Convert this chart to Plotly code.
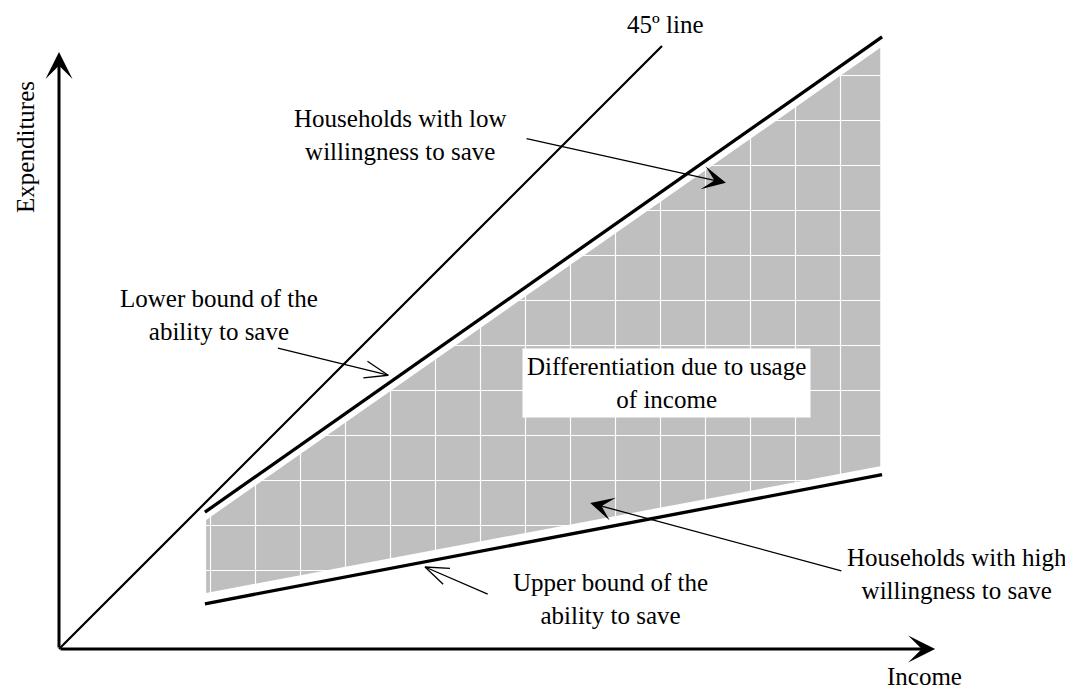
import numpy as np
import plotly.graph_objects as go

# ---- data (income on x, expenditures on y, arbitrary units) ----
x_axis_end = 145.3
y_axis_end = 99.0

line45_x = [0, 100]
line45_y = [0, 100]

low_will_x = [24.2, 136.5]     # households with low willingness to save
low_will_y = [22.7, 101.5]
high_will_x = [24.2, 136.5]    # households with high willingness to save
high_will_y = [7.5, 28.9]

band_x = [24.4, 136.2, 136.2, 24.4]
band_y = [21.4, 99.7, 30.3, 9.3]

# pointer arrows: tail -> tip
filled_tails = [(77.3, 84.7), (130.0, 12.9)]
filled_tips = [(110.6, 77.3), (88.1, 24.2)]
open_tails = [(36.3, 49.9), (71.1, 9.1)]
open_tips = [(54.6, 45.4), (60.7, 13.6)]

label_texts = [
    "45º line",
    "Households with low<br>willingness to save",
    "Lower bound of the<br>ability to save",
    "Upper bound of the<br>ability to save",
    "Households with high<br>willingness to save",
    "Income",
]
label_x = [100.5, 56.6, 26.5, 91.5, 148.9, 143.6]
label_y = [103.5, 85.2, 55.4, 8.3, 12.4, -4.5]

box_text = "Differentiation due to usage<br>of income"
box_x, box_y = 100.7, 44.1

ylabel_text = "Expenditures"
ylabel_x, ylabel_y = -5.6, 83.3

FONT = dict(family="Liberation Serif, Times New Roman, serif", size=25, color="black")

fig = go.Figure()

# shaded band
fig.add_trace(go.Scatter(
    x=band_x + [band_x[0]], y=band_y + [band_y[0]],
    mode="lines", line=dict(width=0), fill="toself",
    fillcolor="#bfbfbf",
    fillpattern=dict(shape="+", fgcolor="white", bgcolor="#bfbfbf",
                     size=45, solidity=0.05, fillmode="replace"),
    hoverinfo="skip", showlegend=False))

# 45 degree line
fig.add_trace(go.Scatter(x=line45_x, y=line45_y, mode="lines",
                         line=dict(color="black", width=2.2),
                         hoverinfo="skip", showlegend=False))
# willingness lines
for xs, ys in [(low_will_x, low_will_y), (high_will_x, high_will_y)]:
    fig.add_trace(go.Scatter(x=xs, y=ys, mode="lines",
                             line=dict(color="black", width=3.3),
                             hoverinfo="skip", showlegend=False))

# open arrows (shaft + two barbs)
def barbs(tail, tip, length=4.15, half_angle_deg=20):
    d = np.array(tail, float) - np.array(tip, float)
    d /= np.linalg.norm(d)
    pts = []
    for s in (1, -1):
        a = np.radians(half_angle_deg) * s
        r = np.array([d[0] * np.cos(a) - d[1] * np.sin(a),
                      d[0] * np.sin(a) + d[1] * np.cos(a)])
        pts.append(np.array(tip) + length * r)
    return [pts[0][0], tip[0], pts[1][0]], [pts[0][1], tip[1], pts[1][1]]

for tail, tip in zip(open_tails, open_tips):
    fig.add_trace(go.Scatter(x=[tail[0], tip[0]], y=[tail[1], tip[1]], mode="lines",
                             line=dict(color="black", width=1.3),
                             hoverinfo="skip", showlegend=False))
    bx, by = barbs(tail, tip)
    fig.add_trace(go.Scatter(x=bx, y=by, mode="lines",
                             line=dict(color="black", width=1.3),
                             hoverinfo="skip", showlegend=False))

annotations = []
# axes arrows
annotations.append(dict(x=x_axis_end, y=0, ax=0, ay=0, axref="x", ayref="y",
                        xref="x", yref="y", text="", showarrow=True,
                        arrowhead=3, arrowwidth=3, arrowsize=1.5, arrowcolor="black"))
annotations.append(dict(x=0, y=y_axis_end, ax=0, ay=0, axref="x", ayref="y",
                        xref="x", yref="y", text="", showarrow=True,
                        arrowhead=3, arrowwidth=3, arrowsize=1.5, arrowcolor="black"))
# filled pointer arrows
for tail, tip in zip(filled_tails, filled_tips):
    annotations.append(dict(x=tip[0], y=tip[1], ax=tail[0], ay=tail[1],
                            axref="x", ayref="y", xref="x", yref="y", text="",
                            showarrow=True, arrowhead=3, arrowwidth=1.3,
                            arrowsize=3.0, arrowcolor="black"))
# labels
for t, lx, ly in zip(label_texts, label_x, label_y):
    annotations.append(dict(x=lx, y=ly, xref="x", yref="y", text=t, showarrow=False,
                            font=FONT, align="center", xanchor="center", yanchor="middle"))
annotations.append(dict(x=box_x, y=box_y, xref="x", yref="y", text=box_text,
                        showarrow=False, font=FONT, align="center",
                        bgcolor="white", borderpad=4,
                        xanchor="center", yanchor="middle"))
annotations.append(dict(x=ylabel_x, y=ylabel_y, xref="x", yref="y", text=ylabel_text,
                        showarrow=False, font=FONT, textangle=-90,
                        xanchor="center", yanchor="middle"))

# the page body adds an 8px margin, so the axes ranges are shifted to compensate
fig.update_layout(
    width=1073, height=691,
    margin=dict(l=0, r=0, t=0, b=0),
    paper_bgcolor="white", plot_bgcolor="white",
    annotations=annotations,
    xaxis=dict(range=[-8.458, 169.49], visible=False, fixedrange=True),
    yaxis=dict(range=[-8.292, 106.30], visible=False, fixedrange=True),
    showlegend=False,
)

fig.write_html("out.html")
